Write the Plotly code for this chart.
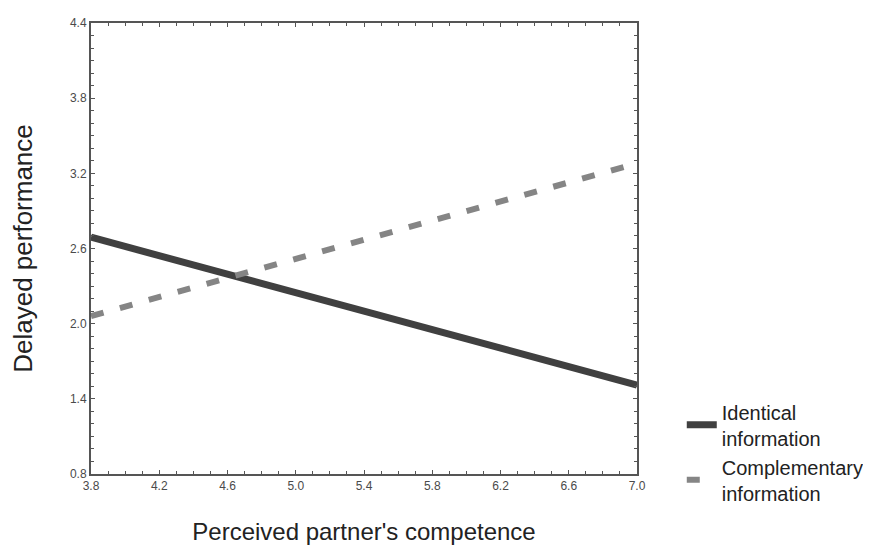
import plotly.graph_objects as go

x_vals = [3.8, 7.0]
identical = [2.69, 1.51]
complementary = [2.06, 3.28]
series_names = ["Identical<br>information", "Complementary<br>information"]
x_ticks = [3.8, 4.2, 4.6, 5.0, 5.4, 5.8, 6.2, 6.6, 7.0]
y_ticks = [0.8, 1.4, 2.0, 2.6, 3.2, 3.8, 4.4]

fig = go.Figure()
fig.add_trace(go.Scatter(x=x_vals, y=identical, mode="lines", name=series_names[0],
                         line=dict(color="#404040", width=7)))
fig.add_trace(go.Scatter(x=x_vals, y=complementary, mode="lines", name=series_names[1],
                         line=dict(color="#858585", width=6, dash="13px,17px")))

axis_common = dict(showgrid=False, zeroline=False, showline=True, mirror="allticks",
                   linecolor="#555555", linewidth=2, ticks="inside", ticklen=4,
                   tickcolor="#555555", tickwidth=1,
                   tickfont=dict(family="Liberation Sans, Arial, sans-serif", size=12, color="#4a4a4a"))

fig.update_layout(
    width=871, height=551,
    margin=dict(l=82, r=242, t=8, b=85),
    plot_bgcolor="white", paper_bgcolor="white",
    xaxis=dict(range=[3.8, 7.0], tickvals=x_ticks, ticktext=[f"{v:.1f}" for v in x_ticks],
               minor=dict(dtick=0.1, ticks="inside", ticklen=3, tickcolor="#555555"),
               title=dict(text="Perceived partner's competence", standoff=31,
                          font=dict(family="Liberation Sans, Arial, sans-serif", size=24, color="#222222")),
               **axis_common),
    yaxis=dict(range=[0.8, 4.4], tickvals=y_ticks, ticktext=[f"{v:.1f}" for v in y_ticks],
               minor=dict(dtick=0.1, ticks="inside", ticklen=3, tickcolor="#555555"),
               title=dict(text="Delayed performance", standoff=36,
                          font=dict(family="Liberation Sans, Arial, sans-serif", size=26, color="#222222")),
               **axis_common),
    legend=dict(x=1.082, y=0.181, xanchor="left", yanchor="top",
                font=dict(family="Liberation Sans, Arial, sans-serif", size=20, color="#222222"),
                tracegroupgap=12, bgcolor="rgba(0,0,0,0)"),
    showlegend=True,
)

fig.write_html("out.html")
